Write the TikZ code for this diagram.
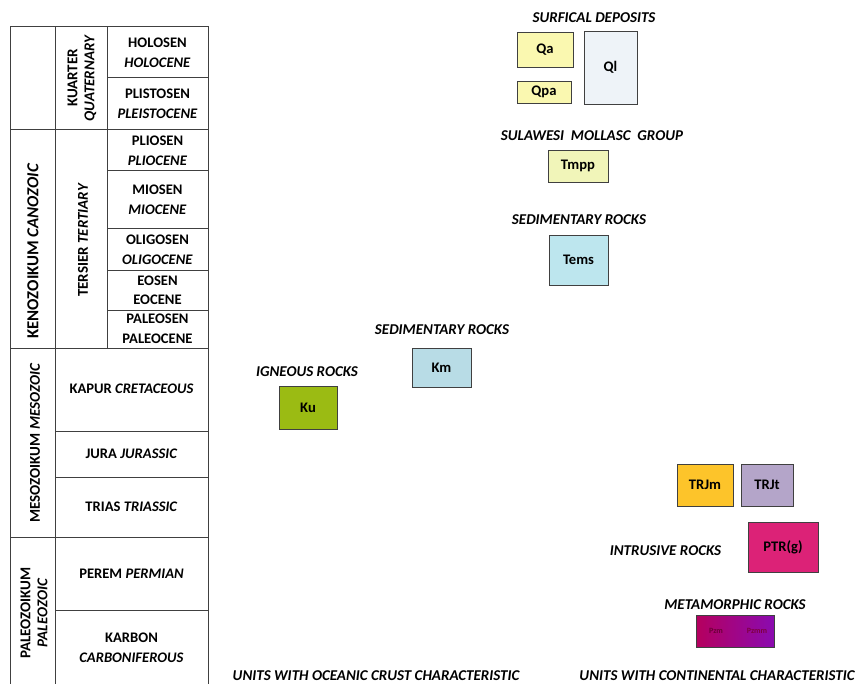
\documentclass[tikz,border=0pt]{standalone}
\usepackage{fontspec}
\setmainfont{Carlito}
\definecolor{qyellow}{HTML}{FAF8B0}
\definecolor{qlgrey}{HTML}{EEF3F8}
\definecolor{tmppyel}{HTML}{F1F5B9}
\definecolor{temsblue}{HTML}{BDE6EE}
\definecolor{kmblue}{HTML}{B8DCE6}
\definecolor{kugreen}{HTML}{9BBB13}
\definecolor{trjmorange}{HTML}{FDC42A}
\definecolor{trjtlilac}{HTML}{B4A5C9}
\definecolor{ptrpink}{HTML}{DC2277}
\definecolor{pzmred}{HTML}{B5005E}
\definecolor{pzmmpurple}{HTML}{8A0BB0}
\begin{document}
\begin{tikzpicture}[x=1pt, y=-1pt,
	every node/.style={font=\bfseries\fontsize{14.6}{19.5}\selectfont},
	grid/.style={draw=black!75, line width=1pt},
	epoch/.style={align=center},
	vlabel/.style={rotate=90, align=center, font=\bfseries\fontsize{15}{17}\selectfont},
	unitbox/.style={draw=black!75, line width=0.9pt, inner sep=0pt, align=center},
	rocklabel/.style={font=\bfseries\itshape\fontsize{15}{17}\selectfont}
]
	\useasboundingbox (0, 0) rectangle (858, 684);

	% time scale table
	\draw[grid] (10, 684) -- (10, 27) -- (208, 27) -- (208, 684);
	\draw[grid] (55, 27) -- (55, 684);
	\draw[grid] (107, 27) -- (107, 348);
	\foreach \y in {130, 348, 537}
		\draw[grid] (10, \y) -- (208, \y);
	\foreach \y in {78, 171, 229, 271, 310}
		\draw[grid] (107, \y) -- (208, \y);
	\foreach \y in {431, 477, 610}
		\draw[grid] (55, \y) -- (208, \y);

	\node[vlabel, font=\bfseries\fontsize{16.8}{19}\selectfont] (keno) at (33, 251) {KENOZOIKUM \textit{CANOZOIC}};
	\node[vlabel] (meso) at (35, 443) {MESOZOIKUM \textit{MESOZOIC}};
	\node[vlabel] (paleo) at (34, 613) {PALEOZOIKUM\\\textit{PALEOZOIC}};
	\node[vlabel] (kuarter) at (82, 78) {KUARTER\\\textit{QUATERNARY}};
	\node[vlabel] (tersier) at (83, 240) {TERSIER \textit{TERTIARY}};

	\node[epoch] (holosen) at (157.5, 53) {HOLOSEN\\\textit{HOLOCENE}};
	\node[epoch] (plistosen) at (157.5, 104) {PLISTOSEN\\\textit{PLEISTOCENE}};
	\node[epoch] (pliosen) at (157.5, 151) {PLIOSEN\\\textit{PLIOCENE}};
	\node[epoch] (miosen) at (157.5, 200) {MIOSEN\\\textit{MIOCENE}};
	\node[epoch] (oligosen) at (157.5, 250) {OLIGOSEN\\\textit{OLIGOCENE}};
	\node[epoch] (eosen) at (157.5, 290.5) {EOSEN\\EOCENE};
	\node[epoch] (paleosen) at (157.5, 329) {PALEOSEN\\PALEOCENE};
	\node[epoch] (kapur) at (131.5, 389) {KAPUR \textit{CRETACEOUS}};
	\node[epoch] (jura) at (131.5, 454) {JURA \textit{JURASSIC}};
	\node[epoch] (trias) at (131.5, 507) {TRIAS \textit{TRIASSIC}};
	\node[epoch] (perem) at (131.5, 574) {PEREM \textit{PERMIAN}};
	\node[epoch] (karbon) at (131.5, 648) {KARBON\\\textit{CARBONIFEROUS}};

	% rock units
	\node[rocklabel] (surfical) at (594, 18) {SURFICAL DEPOSITS};
	\node[unitbox, fill=qyellow, minimum width=56pt, minimum height=35pt] (qa) at (545, 49.5) {Qa};
	\node[unitbox, fill=qyellow, minimum width=54pt, minimum height=22pt] (qpa) at (544, 92) {Qpa};
	\node[unitbox, fill=qlgrey, minimum width=53pt, minimum height=73pt] (ql) at (610.5, 67.5) {Ql};

	\node[rocklabel] (mollasc) at (592, 136) {SULAWESI\ \ MOLLASC\ \ GROUP};
	\node[unitbox, fill=tmppyel, minimum width=60pt, minimum height=32pt] (tmpp) at (578, 166) {Tmpp};

	\node[rocklabel] (sedimen) at (579, 220) {SEDIMENTARY ROCKS};
	\node[unitbox, fill=temsblue, minimum width=59pt, minimum height=50pt] (tems) at (578.5, 260) {Tems};

	\node[rocklabel] (sedimenk) at (442, 330) {SEDIMENTARY ROCKS};
	\node[unitbox, fill=kmblue, minimum width=59pt, minimum height=39pt] (km) at (441.5, 367.5) {Km};

	\node[rocklabel] (igneous) at (307, 372) {IGNEOUS ROCKS};
	\node[unitbox, fill=kugreen, minimum width=58pt, minimum height=43pt] (ku) at (308, 407.5) {Ku};

	\node[unitbox, fill=trjmorange, minimum width=56pt, minimum height=42pt] (trjm) at (705, 485) {TRJm};
	\node[unitbox, fill=trjtlilac, minimum width=52pt, minimum height=42pt] (trjt) at (767, 485) {TRJt};

	\node[rocklabel] (intrusive) at (665.5, 551) {INTRUSIVE ROCKS};
	\node[unitbox, fill=ptrpink, minimum width=70pt, minimum height=50pt] (ptrg) at (783, 547) {PTR(g)};

	\node[rocklabel] (metamorf) at (735, 605) {METAMORPHIC ROCKS};
	\node[unitbox, left color=pzmred, right color=pzmmpurple, minimum width=78pt, minimum height=32pt] (pzbox) at (735, 631) {};
	\node[font=\bfseries\fontsize{8}{9}\selectfont, text=pzmred!60!black] (pzm) at (716, 631) {Pzm};
	\node[font=\bfseries\fontsize{8}{9}\selectfont, text=pzmred!70!black] (pzmm) at (757, 631) {Pzmm};

	\node[rocklabel] (oceanic) at (376, 676) {UNITS WITH OCEANIC CRUST CHARACTERISTIC};
	\node[rocklabel] (continental) at (717, 676) {UNITS WITH CONTINENTAL CHARACTERISTIC};
\end{tikzpicture}
\end{document}
